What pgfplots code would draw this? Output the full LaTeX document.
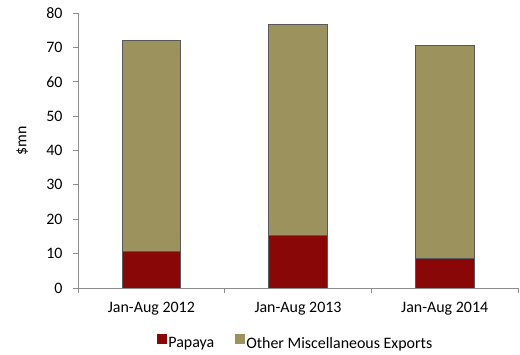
\documentclass[border=0pt]{standalone}
\usepackage{pgfplots}
\pgfplotsset{compat=1.18}
\usepackage{fontspec}
\setmainfont{Carlito}
\definecolor{papaya}{HTML}{8A0707}
\definecolor{other}{HTML}{9C925E}
\definecolor{axgray}{HTML}{8C8C8C}
\begin{document}
\fontsize{16}{19}\selectfont
\begin{tikzpicture}
\begin{axis}[
  at={(78bp,67bp)}, anchor=south west,
  scale only axis, width=440bp, height=275bp,
  ybar stacked, bar width=0.4,
  xmin=-0.5, xmax=2.5, ymin=0, ymax=80,
  ytick={0,10,...,80},
  xtick={-0.5,0.5,1.5,2.5},
  xticklabels={},
  extra x ticks={0,1,2},
  extra x tick labels={Jan-Aug 2012, Jan-Aug 2013, Jan-Aug 2014},
  extra x tick style={major tick length=0pt},
  major tick length=5bp,
  tick style={axgray, line width=0.8pt},
  tick align=outside,
  axis x line*=bottom, axis y line*=left,
  axis line style={axgray, line width=0.8pt},
  x axis line style={-}, y axis line style={-},
  /pgf/number format/assume math mode=true,
  ticklabel style={font=\fontsize{16}{19}\selectfont},
  yticklabel style={xshift=-5bp},
  xticklabel style={yshift=-9bp},
  ylabel={\$mn},
  ylabel style={at={(axis description cs:-0.127,0.535)}, anchor=center},
  legend style={at={(0.494,-0.2)}, anchor=center, draw=none, legend columns=2,
    font=\fontsize{16}{19}\selectfont,
    nodes={inner sep=1bp},
    /tikz/every even column/.append style={column sep=20bp}},
  legend image code/.code={\draw[#1, draw=none] (0bp,-0.5bp) rectangle (10bp,9.5bp);},
]
\addplot[fill=papaya, draw=gray!70!black, line width=0.4pt] coordinates {(0,10.6) (1,15.4) (2,8.7)};
\addplot[fill=other, draw=gray!70!black, line width=0.4pt] coordinates {(0,61.5) (1,61.2) (2,61.8)};
\legend{Papaya, Other Miscellaneous Exports}
\end{axis}
\pgfresetboundingbox
\path[use as bounding box] (0,0) rectangle (520bp,355bp);
\end{tikzpicture}
\end{document}
